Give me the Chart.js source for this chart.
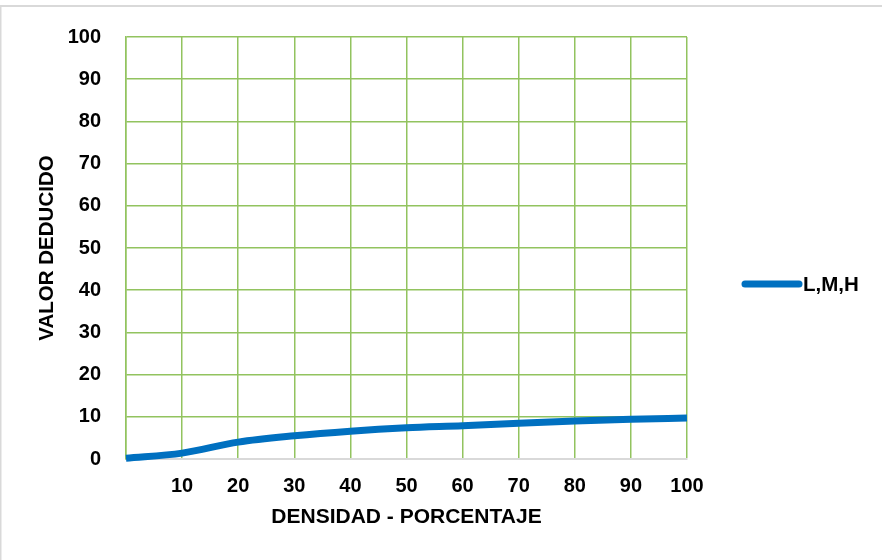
<!DOCTYPE html>
<html>
<head>
<meta charset="utf-8">
<script src="https://cdn.jsdelivr.net/npm/chart.js@4/dist/chart.umd.min.js"></script>
<style>
  html, body { margin: 0; padding: 0; background: #ffffff; }
  #wrap { width: 882px; height: 560px; position: relative; }
</style>
</head>
<body>
<div id="wrap"><canvas id="c" width="882" height="560"></canvas></div>
<script>
// Deduct-value curve: density (%) vs deducted value
const densidad = [0, 10, 20, 30, 40, 50, 60, 70, 80, 90, 100];
const valorDeducido = [0.2, 1.4, 4.0, 5.5, 6.6, 7.4, 7.9, 8.5, 9.0, 9.4, 9.7];
const seriesLabel = 'L,M,H';
const yTicks = [0, 10, 20, 30, 40, 50, 60, 70, 80, 90, 100];
const xTicks = [10, 20, 30, 40, 50, 60, 70, 80, 90, 100];

const FONT = "'Liberation Sans', Arial, sans-serif";
const GRID = '#92c35f';
const BLUE = '#0070c0';

// Frame lines around the figure and a manual legend entry on the right
const framePlugin = {
  id: 'frame',
  beforeDraw(chart) {
    const ctx = chart.ctx;
    ctx.save();
    ctx.fillStyle = '#d9d9d9';
    ctx.fillRect(0, 5, chart.width, 2);
    ctx.fillRect(0, 5, 1.5, chart.height - 5);
    ctx.restore();
  },
  afterDraw(chart) {
    const ctx = chart.ctx;
    const ds = chart.data.datasets[0];
    const y = 284;
    ctx.save();
    ctx.strokeStyle = ds.borderColor;
    ctx.lineWidth = 7;
    ctx.lineCap = 'round';
    ctx.beginPath();
    ctx.moveTo(745, y);
    ctx.lineTo(799, y);
    ctx.stroke();
    ctx.fillStyle = '#000';
    ctx.font = 'bold 20.5px ' + FONT;
    ctx.textBaseline = 'middle';
    ctx.fillText(ds.label, 803, y + 1);
    ctx.restore();
  }
};

new Chart(document.getElementById('c'), {
  type: 'line',
  data: {
    datasets: [{
      label: seriesLabel,
      data: densidad.map((d, i) => ({ x: d, y: valorDeducido[i] })),
      borderColor: BLUE,
      backgroundColor: BLUE,
      borderWidth: 7,
      pointRadius: 0,
      cubicInterpolationMode: 'monotone',
      borderCapStyle: 'butt',
      clip: false
    }]
  },
  options: {
    responsive: false,
    animation: false,
    layout: { padding: { top: 35, right: 195, left: 0, bottom: 0 } },
    plugins: { legend: { display: false }, tooltip: { enabled: false } },
    scales: {
      x: {
        type: 'linear',
        min: 0, max: 100,
        afterBuildTicks(scale) { scale.ticks = [0, ...xTicks].map(v => ({ value: v })); },
        afterFit(scale) { scale.height = 101; },
        ticks: {
          callback: v => (xTicks.includes(v) ? String(v) : ''),
          color: '#000',
          font: { family: FONT, size: 20, weight: 'bold' },
          padding: 15,
          maxRotation: 0,
          autoSkip: false
        },
        grid: { color: GRID, lineWidth: 1.5, drawTicks: false },
        border: { display: true, color: '#d9d9d9', width: 2 },
        title: {
          display: true,
          text: 'DENSIDAD - PORCENTAJE',
          color: '#000',
          font: { family: FONT, size: 21, weight: 'bold' },
          padding: { top: 0, bottom: 30 }
        }
      },
      y: {
        min: 0, max: 100,
        afterBuildTicks(scale) { scale.ticks = yTicks.map(v => ({ value: v })); },
        afterFit(scale) { scale.width = 126; },
        ticks: {
          color: '#000',
          font: { family: FONT, size: 20, weight: 'bold' },
          padding: 25
        },
        grid: {
          color: ctx => (ctx.tick && ctx.tick.value === 0 ? 'rgba(0,0,0,0)' : GRID),
          lineWidth: 1.5,
          drawTicks: false
        },
        border: { display: true, color: GRID, width: 1.5 },
        title: {
          display: true,
          text: 'VALOR DEDUCIDO',
          color: '#000',
          font: { family: FONT, size: 20.5, weight: 'bold' },
          padding: { top: 35, bottom: 0 }
        }
      }
    }
  },
  plugins: [framePlugin]
});
</script>
</body>
</html>
